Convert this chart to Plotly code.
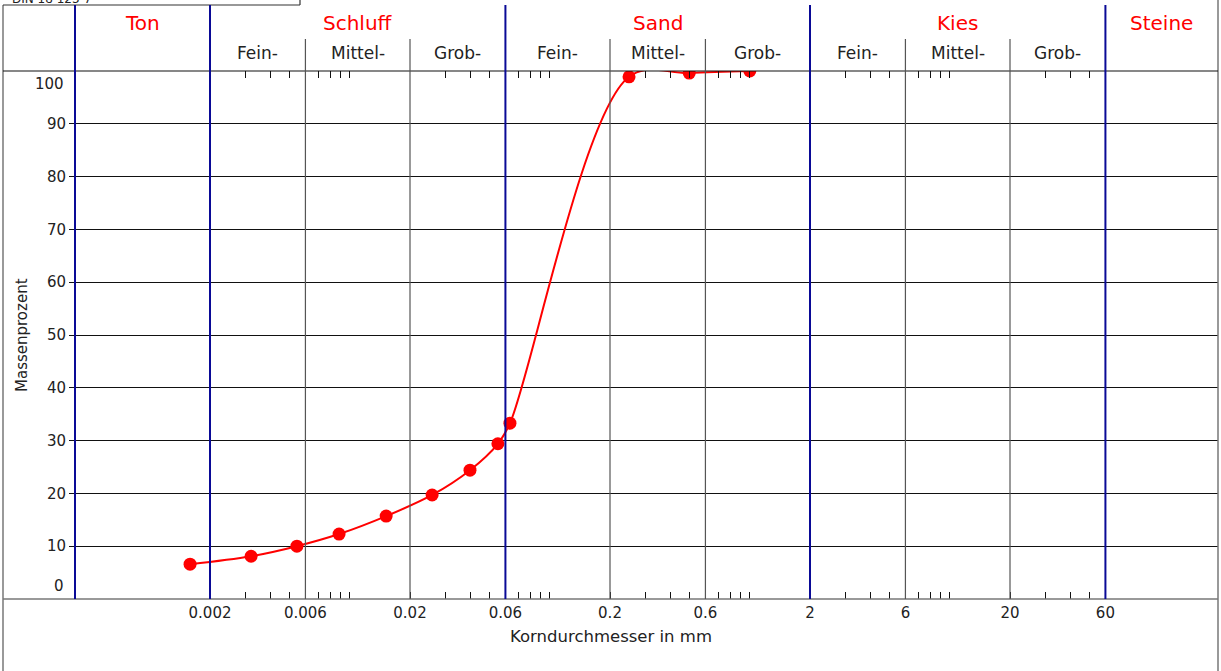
import math
import plotly.graph_objects as go

# ---- data ----
grain_mm = [0.00159, 0.00321, 0.00544, 0.00884, 0.0152, 0.0258, 0.0399, 0.055, 0.0632, 0.249, 0.498, 1.0]
passing_pct = [6.6, 8.1, 10.0, 12.3, 15.7, 19.7, 24.4, 29.4, 33.3, 98.9, 99.6, 100.0]

major_ticks = [0.002, 0.006, 0.02, 0.06, 0.2, 0.6, 2, 6, 20, 60]
major_labels = ["0.002", "0.006", "0.02", "0.06", "0.2", "0.6", "2", "6", "20", "60"]
minor_ticks = [0.003, 0.004, 0.005, 0.007, 0.008, 0.009, 0.01,
               0.03, 0.04, 0.05, 0.07, 0.08, 0.09, 0.1,
               0.3, 0.4, 0.5, 0.7, 0.8, 0.9, 1.0,
               3, 4, 5, 7, 8, 9, 10,
               30, 40, 50]
y_ticks = [10, 20, 30, 40, 50, 60, 70, 80, 90]

main_bounds = [0.002, 0.06, 2, 60]            # Ton|Schluff|Sand|Kies|Steine
sub_bounds = [0.006, 0.02, 0.2, 0.6, 6, 20]    # Fein|Mittel|Grob
main_names = ["Ton", "Schluff", "Sand", "Kies", "Steine"]
sub_names = ["Fein-", "Mittel-", "Grob-"]

# ---- layout geometry ----
W, H = 1221, 671
L, R, T, B = 75, 3, 71, 72
PW = W - L - R
PH = H - T - B
px_per_dec = 200.0
x0 = math.log10(0.002) - (210 - L) / px_per_dec
x1 = x0 + PW / px_per_dec

FONT = "DejaVu Sans"
TXT = "#222222"
NAVY = "#0a0a96"

def py(pix):  # pixel y -> paper y
    return (H - B - pix) / PH

def pxp(pix):  # pixel x -> paper x
    return (pix - L) / PW

fig = go.Figure()
fig.add_trace(go.Scatter(
    x=grain_mm, y=passing_pct, mode="lines+markers",
    line=dict(color="#ff0000", width=2, shape="spline", smoothing=1.0),
    marker=dict(color="#ff0000", size=13),
    showlegend=False, hoverinfo="skip"))
# invisible trace for top axis
fig.add_trace(go.Scatter(x=[grain_mm[0]], y=[passing_pct[0]], xaxis="x2",
                         mode="markers", marker=dict(opacity=0), showlegend=False,
                         hoverinfo="skip"))

shapes = []
# outer frame lines
shapes.append(dict(type="line", xref="paper", yref="paper", x0=pxp(3), x1=pxp(3),
                   y0=py(5), y1=py(H), line=dict(color="#777777", width=1.5)))
shapes.append(dict(type="line", xref="paper", yref="paper", x0=pxp(1218), x1=pxp(1218),
                   y0=py(0), y1=py(H), line=dict(color="#777777", width=1.5)))
# DIN box
shapes.append(dict(type="line", xref="paper", yref="paper", x0=pxp(3), x1=pxp(300),
                   y0=py(5), y1=py(5), line=dict(color="#333333", width=1.2)))
shapes.append(dict(type="line", xref="paper", yref="paper", x0=pxp(300), x1=pxp(300),
                   y0=py(0), y1=py(5), line=dict(color="#333333", width=1.2)))
# top & bottom horizontal lines spanning frame
shapes.append(dict(type="line", xref="paper", yref="paper", x0=pxp(3), x1=1,
                   y0=1, y1=1, line=dict(color="#111111", width=1.2)))
shapes.append(dict(type="line", xref="paper", yref="paper", x0=pxp(3), x1=1,
                   y0=0, y1=0, line=dict(color="#777777", width=1.5)))
# subdivision lines
for v in sub_bounds:
    shapes.append(dict(type="line", xref="x", yref="paper", x0=v, x1=v,
                       y0=0, y1=py(39), line=dict(color="#555555", width=1.2)))
# main boundary lines
shapes.append(dict(type="line", xref="paper", yref="paper", x0=0, x1=0,
                   y0=0, y1=py(5), line=dict(color=NAVY, width=2)))
for v in main_bounds:
    shapes.append(dict(type="line", xref="x", yref="paper", x0=v, x1=v,
                       y0=0, y1=py(5), line=dict(color=NAVY, width=2)))

annotations = []
# main headers
edges_log = [x0] + [math.log10(v) for v in main_bounds] + [x1]
for i, name in enumerate(main_names):
    annotations.append(dict(x=(edges_log[i] + edges_log[i + 1]) / 2, y=py(23),
                            xref="x", yref="paper", text=name, showarrow=False,
                            xanchor="center", yanchor="middle",
                            font=dict(family=FONT, size=20, color="#ff0000")))
# sub headers
sub_edges = [0.002, 0.006, 0.02, 0.06, 0.2, 0.6, 2, 6, 20, 60]
for i in range(9):
    annotations.append(dict(x=(math.log10(sub_edges[i]) + math.log10(sub_edges[i + 1])) / 2,
                            y=py(53), xref="x", yref="paper", text=sub_names[i % 3],
                            xanchor="center", yanchor="middle",
                            showarrow=False, font=dict(family=FONT, size=17, color=TXT)))
# y labels 0 and 100
annotations.append(dict(x=0, y=0, xref="paper", yref="y", text="0", showarrow=False,
                        xanchor="right", yanchor="middle", xshift=-9, yshift=13,
                        font=dict(family=FONT, size=15, color=TXT)))
annotations.append(dict(x=0, y=100, xref="paper", yref="y", text="100", showarrow=False,
                        xanchor="right", yanchor="middle", xshift=-9, yshift=-13,
                        font=dict(family=FONT, size=15, color=TXT)))
# axis titles
annotations.append(dict(x=pxp(611), y=py(636), xref="paper", yref="paper",
                        text="Korndurchmesser in mm", showarrow=False,
                        xanchor="center", yanchor="middle",
                        font=dict(family=FONT, size=16.5, color=TXT)))
annotations.append(dict(x=pxp(22), y=py(335), xref="paper", yref="paper",
                        text="Massenprozent", showarrow=False, textangle=-90,
                        xanchor="center", yanchor="middle",
                        font=dict(family=FONT, size=15, color=TXT)))
# DIN label (cut at top, as in the reference)
annotations.append(dict(x=pxp(10), y=py(-1), xref="paper", yref="paper",
                        text="DIN 18 123-7", showarrow=False, xanchor="left",
                        yanchor="middle",
                        font=dict(family=FONT, size=12, color=TXT)))

tickvals = major_ticks + minor_ticks
ticktext = major_labels + [""] * len(minor_ticks)

fig.update_layout(
    width=W, height=H,
    margin=dict(l=L, r=R, t=T, b=B),
    paper_bgcolor="white", plot_bgcolor="white",
    shapes=shapes, annotations=annotations,
    xaxis=dict(type="log", range=[x0, x1], tickvals=tickvals, ticktext=ticktext,
               ticks="inside", ticklen=7, tickwidth=1, tickcolor="#111111",
               ticklabelstandoff=3,
               showgrid=False, zeroline=False, showline=False,
               tickfont=dict(family=FONT, size=15, color=TXT)),
    xaxis2=dict(type="log", range=[x0, x1], overlaying="x", side="top", anchor="y",
                tickvals=minor_ticks, ticks="inside", ticklen=7, tickwidth=1,
                tickcolor="#111111", showticklabels=False, showgrid=False,
                zeroline=False, showline=False),
    yaxis=dict(range=[0, 100], tickvals=y_ticks, ticks="outside", ticklen=5,
               tickcolor="#111111", showgrid=True, gridcolor="#111111", gridwidth=1,
               zeroline=False, showline=False,
               tickfont=dict(family=FONT, size=15, color=TXT)),
)

fig.write_html("out.html", config={"displayModeBar": False},
               post_script="document.body.style.margin='0';document.body.style.overflow='hidden';")
